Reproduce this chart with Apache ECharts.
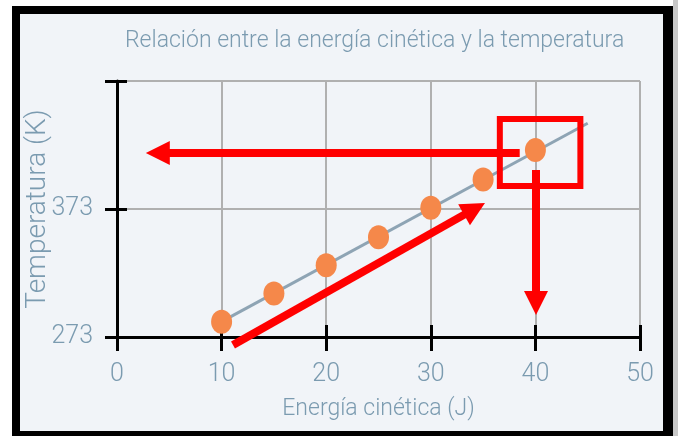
<!DOCTYPE html>
<html>
<head>
<meta charset="utf-8">
<script src="https://cdn.jsdelivr.net/npm/echarts@6/dist/echarts.min.js"></script>
<style>
  html, body { margin: 0; padding: 0; background: #ffffff; }
  #frame { position: absolute; left: 12px; top: 6px; width: 643px; height: 417px;
    background: #f1f4f8; border-style: solid; border-color: #000;
    border-width: 8px 10px 5px 8px; }
  #shade { position: absolute; left: 673px; top: 0; width: 5px; height: 436px; background: #c8c8c8; }
  #chart { position: absolute; left: 0; top: 0; width: 678px; height: 436px; }
</style>
</head>
<body>
<div id="frame"></div>
<div id="shade"></div>
<div id="chart"></div>
<script>
// ---- data ----
const titleText = 'Relación entre la energía cinética y la temperatura';
const xName = 'Energía cinética (J)';
const yName = 'Temperatura (K)';
const energy = [10, 15, 20, 25, 30, 35, 40];
const temperature = [285, 307, 329, 351, 374, 396, 419];
const trendX = [10, 45];
const trendY = [285, 440];
const xTicks = [0, 10, 20, 30, 40, 50];
const yTicks = [273, 373, 473];
const yTickLabels = ['273', '373', ''];

// ---- annotations (red arrows and box, in data units) ----
const arrowLeft = [[38.5, 416.75], [3.9, 416.75]];
const arrowDown = [[40.06, 403.5], [40.06, 299.6]];
const arrowDiag = [[11.09, 266.75], [34.18, 373.1]];
const box = [[36.6, 443.3], [44.3, 443.3], [44.3, 391], [36.6, 391], [36.6, 443.3], [44.3, 443.3]];

const FONT = "Roboto, 'Liberation Sans', sans-serif";
const TXT = '#7b9bb0';
const W = 300;

const chart = echarts.init(document.getElementById('chart'), null, { renderer: 'canvas' });

const xMin = xTicks[0], xMax = xTicks[xTicks.length - 1], xInt = xTicks[1] - xTicks[0];
const yMin = yTicks[0], yMax = yTicks[yTicks.length - 1], yInt = yTicks[1] - yTicks[0];

chart.setOption({
  animation: false,
  backgroundColor: 'transparent',
  title: {
    text: titleText,
    left: 120, top: 25,
    textStyle: { fontFamily: FONT, fontSize: 23, fontWeight: W, color: TXT }
  },
  grid: { left: 117, right: 38, top: 81, bottom: 99 },
  xAxis: [
    {
      type: 'value', position: 'bottom', min: xMin, max: xMax, interval: xInt,
      name: xName, nameLocation: 'middle', nameGap: 61, nameMoveOverlap: false,
      nameTextStyle: { fontFamily: FONT, fontSize: 23, fontWeight: W, color: TXT },
      axisLine: { show: true, lineStyle: { color: '#000', width: 3 } },
      axisTick: { show: true, inside: false, length: 14, lineStyle: { color: '#000', width: 3 } },
      axisLabel: { fontFamily: FONT, fontSize: 25, fontWeight: W, color: TXT, margin: 25 },
      splitLine: { show: true, lineStyle: { color: '#b0b0b0', width: 2 } }
    },
    {
      type: 'value', position: 'bottom', min: xMin, max: xMax, interval: xInt,
      axisLine: { show: false },
      axisTick: { show: true, inside: true, length: 12, lineStyle: { color: '#000', width: 3 } },
      axisLabel: { show: false },
      splitLine: { show: false }
    }
  ],
  yAxis: [
    {
      type: 'value', min: yMin, max: yMax, interval: yInt,
      name: yName, nameLocation: 'middle', nameGap: 65, nameMoveOverlap: false,
      nameTextStyle: { fontFamily: FONT, fontSize: 28, fontWeight: W, color: TXT },
      axisLine: { show: true, lineStyle: { color: '#000', width: 3 } },
      axisTick: { show: true, inside: false, length: 12, lineStyle: { color: '#000', width: 3 } },
      axisLabel: {
        fontFamily: FONT, fontSize: 25, fontWeight: W, color: TXT, margin: 24,
        formatter: function (v) { const i = yTicks.indexOf(v); return i >= 0 ? yTickLabels[i] : ''; }
      },
      splitLine: { show: true, lineStyle: { color: '#b0b0b0', width: 2 } }
    },
    {
      type: 'value', position: 'left', min: yMin, max: yMax, interval: yInt,
      axisLine: { show: false },
      axisTick: { show: true, inside: true, length: 10, lineStyle: { color: '#000', width: 3 } },
      axisLabel: { show: false },
      splitLine: { show: false }
    }
  ],
  series: [
    {
      type: 'line', xAxisIndex: 0, yAxisIndex: 0, z: 3,
      data: trendX.map((x, i) => [x, trendY[i]]),
      symbol: 'none',
      lineStyle: { color: '#8ea4b4', width: 3 }
    },
    {
      type: 'scatter', xAxisIndex: 0, yAxisIndex: 0, z: 4,
      data: energy.map((x, i) => [x, temperature[i]]),
      symbol: 'circle', symbolSize: [21, 24],
      itemStyle: { color: '#f5884a', opacity: 1 }
    },
    {
      type: 'lines', coordinateSystem: 'cartesian2d', xAxisIndex: 0, yAxisIndex: 0, z: 5,
      clip: false,
      symbol: ['none', 'triangle'], symbolSize: [23, 24],
      lineStyle: { color: '#ff0000', width: 8, opacity: 1, cap: 'butt' },
      data: [ { coords: arrowLeft }, { coords: arrowDown }, { coords: arrowDiag } ]
    },
    {
      type: 'lines', coordinateSystem: 'cartesian2d', xAxisIndex: 0, yAxisIndex: 0, z: 5,
      clip: false, polyline: true,
      symbol: ['none', 'none'],
      lineStyle: { color: '#ff0000', width: 6, opacity: 1, join: 'miter' },
      data: [ { coords: box } ]
    }
  ]
});
</script>
</body>
</html>
